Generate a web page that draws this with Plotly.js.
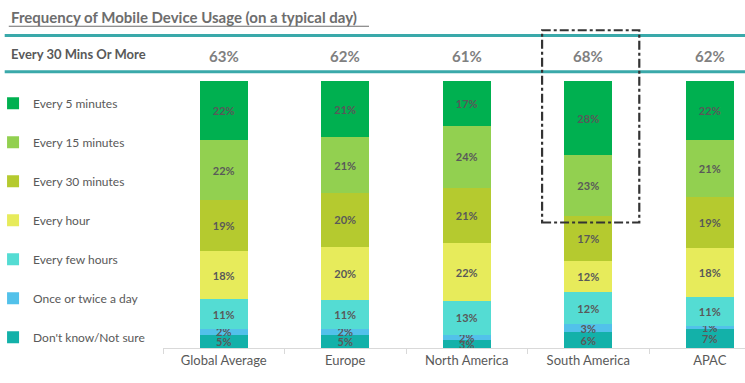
<!DOCTYPE html>
<html>
<head>
<meta charset="utf-8">
<script src="https://cdn.plot.ly/plotly-3.0.1.min.js"></script>
<style>
  html, body { margin: 0; padding: 0; background: #fff; }
  #chart { width: 745px; height: 383px; }
</style>
</head>
<body>
<div id="chart"></div>
<script>
// ---- Data ----
const regions = ["Global Average", "Europe", "North America", "South America", "APAC"];
const seriesNames = ["Don't know/Not sure", "Once or twice a day", "Every few hours", "Every hour", "Every 30 minutes", "Every 15 minutes", "Every 5 minutes"];
const dontKnow = [5, 5, 3, 6, 7];
const onceTwice = [2, 2, 2, 3, 1];
const everyFewHours = [11, 11, 13, 12, 11];
const everyHour = [18, 20, 22, 12, 18];
const every30Min = [19, 20, 21, 17, 19];
const every15Min = [22, 21, 24, 23, 21];
const every5Min = [22, 21, 17, 28, 22];
const every30OrMore = [63, 62, 61, 68, 62];
const seriesColors = ["#13b1a9", "#52c1ea", "#54dcd3", "#e7eb5b", "#b5ca2f", "#92d050", "#00b050"];

const seriesValues = [dontKnow, onceTwice, everyFewHours, everyHour, every30Min, every15Min, every5Min];

const FONT = "Lato, 'Open Sans', sans-serif";
const GRAY = "#595959";

const traces = seriesValues.map((vals, i) => ({
  type: "bar",
  name: seriesNames[i],
  x: regions,
  y: vals,
  text: vals.map(v => v + "%"),
  textposition: "inside",
  insidetextanchor: "middle",
  constraintext: "none",
  textfont: { family: FONT, size: 11, color: GRAY, weight: "bold" },
  marker: { color: seriesColors[i], line: { width: 0 } },
  legendgroup: "g" + i,
  legendrank: 100 - i,
  hoverinfo: "skip"
}));

const annotations = [
  {
    xref: "paper", yref: "paper", x: -0.265, y: 1.102, xanchor: "left", yanchor: "middle",
    text: "<b>Every 30 Mins Or More</b>", showarrow: false,
    font: { family: FONT, size: 13, color: GRAY }
  },
  {
    xref: "paper", yref: "paper", x: -0.265, y: 1.24, xanchor: "left", yanchor: "middle",
    text: "<b>Frequency of Mobile Device Usage (on a typical day)</b>", showarrow: false,
    font: { family: FONT, size: 15, color: "#6d6d6d" }
  }
].concat(regions.map((r, i) => ({
  xref: "x", yref: "paper", x: r, y: 1.095, xanchor: "center", yanchor: "middle",
  text: "<b>" + every30OrMore[i] + "%</b>", showarrow: false,
  font: { family: FONT, size: 15, color: "#808080" }
})));

const tealLine = { color: "#3aa9aa", width: 3 };
const shapes = [
  { type: "line", xref: "paper", yref: "paper", x0: -0.272, x1: 1, y0: 1.17, y1: 1.17, line: tealLine },
  { type: "line", xref: "paper", yref: "paper", x0: -0.272, x1: 1, y0: 1.035, y1: 1.035, line: tealLine },
  { type: "line", xref: "paper", yref: "paper", x0: -0.265, x1: 0.354, y0: 1.205, y1: 1.205, line: { color: "#6d6d6d", width: 1.2 } },
  { type: "rect", xref: "x", yref: "paper", x0: 2.62, x1: 3.42, y0: 0.47, y1: 1.19,
    line: { color: "#333333", width: 2.2, dash: "dashdot" }, fillcolor: "rgba(0,0,0,0)" }
];

const layout = {
  width: 745, height: 383,
  margin: { l: 163, r: 0, t: 81, b: 35, autoexpand: false },
  paper_bgcolor: "#ffffff", plot_bgcolor: "#ffffff",
  barmode: "stack",
  barnorm: "percent",
  bargap: 0.605,
  showlegend: true,
  hovermode: false,
  legend: {
    x: -0.292, xanchor: "left", y: 0.971, yanchor: "top",
    traceorder: "grouped",
    tracegroupgap: 20,
    itemwidth: 30,
    font: { family: FONT, size: 12, color: GRAY },
    bgcolor: "rgba(0,0,0,0)"
  },
  xaxis: {
    type: "category",
    range: [-0.5, 4.29],
    showline: true, linecolor: "#d9d9d9", linewidth: 1,
    ticks: "outside", tickson: "boundaries", ticklen: 5, tickcolor: "#d9d9d9",
    tickfont: { family: FONT, size: 13, color: GRAY },
    showgrid: false, fixedrange: true
  },
  yaxis: {
    range: [0, 100], visible: false, showgrid: false, zeroline: false, fixedrange: true
  },
  annotations: annotations,
  shapes: shapes,
  font: { family: FONT }
};

Plotly.newPlot("chart", traces, layout, { staticPlot: true, displayModeBar: false });
</script>
</body>
</html>
